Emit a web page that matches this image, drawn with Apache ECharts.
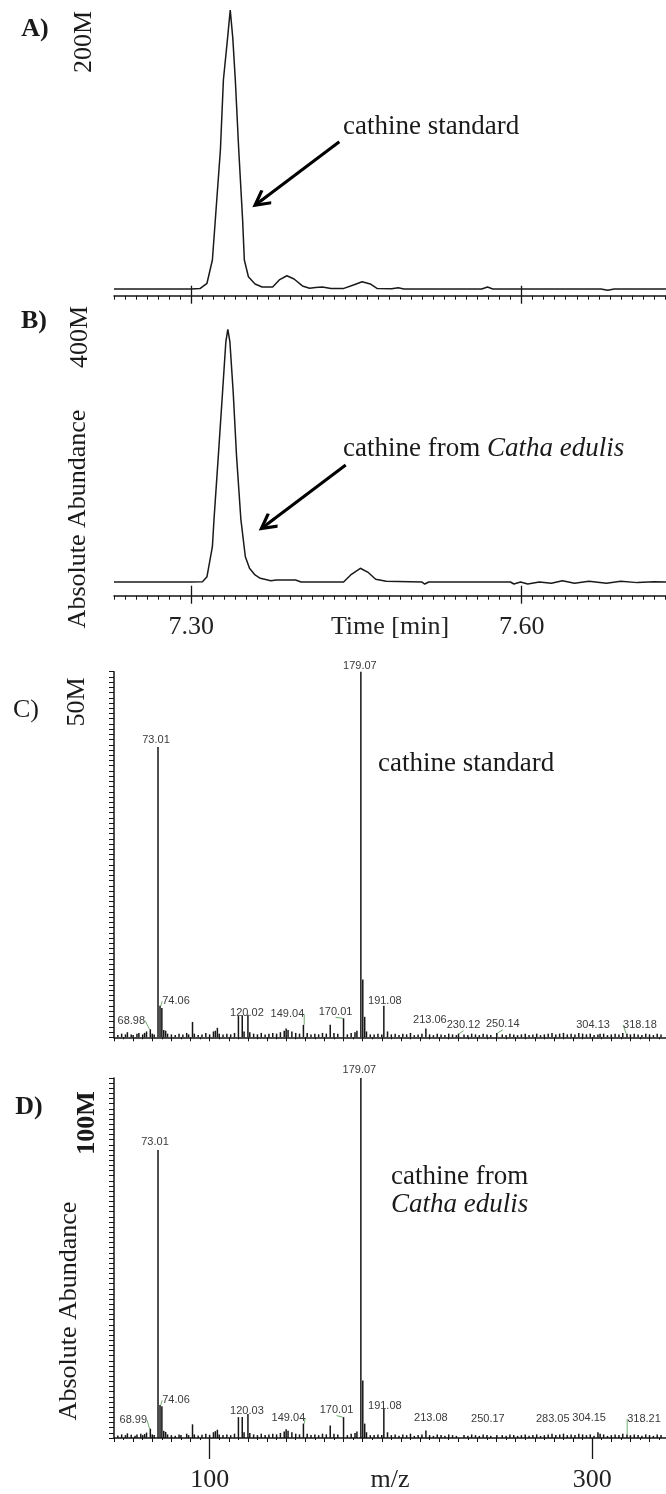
<!DOCTYPE html>
<html>
<head>
<meta charset="utf-8">
<script src="https://cdn.jsdelivr.net/npm/echarts@6/dist/echarts.min.js"></script>
<style>
  html, body { margin: 0; padding: 0; background: #fff; }
  #chart { width: 666px; height: 1494px; }
</style>
</head>
<body>
<div id="chart"></div>
<script>
// ---------- data ----------
// Total ion chromatograms: [retention time (min), abundance (M counts)]
const traceStandard = [
  [7.230,0],[7.300,0],[7.308,0.3],[7.3144,4.1],[7.3193,20.8],[7.322,50],[7.3266,100],[7.3293,150],
  [7.3331,180],[7.3355,200],[7.3378,180],[7.3401,150],[7.3432,100],[7.3467,50],[7.3483,20.8],
  [7.352,8.8],[7.358,3.6],[7.3644,1.4],[7.374,1.4],[7.380,6.5],[7.3869,9.5],[7.3934,7.2],[7.401,2.2],
  [7.4075,0.5],[7.413,1.0],[7.419,1.4],[7.427,0.3],[7.438,0.3],[7.448,3.1],[7.4552,5.2],[7.4626,3.6],
  [7.469,0.3],[7.482,0.2],[7.488,0.9],[7.493,0],[7.5638,0],[7.569,1.4],[7.5738,0],[7.672,0],
  [7.678,-0.9],[7.684,0],[7.731,0]
];
const traceKhat = [
  [7.230,0],[7.300,0],[7.3103,0.5],[7.3144,8.4],[7.3193,55.9],[7.3208,100],[7.3247,200],[7.3285,300],
  [7.3315,380],[7.3333,400],[7.3352,380],[7.3382,300],[7.3412,200],[7.3451,100],[7.3492,40],
  [7.353,21.7],[7.358,11.1],[7.3628,5.9],[7.3724,2.1],[7.3773,3.2],[7.3948,3.2],[7.3998,0],
  [7.4384,0],[7.4448,11.1],[7.4536,21.7],[7.461,14.7],[7.4675,4.3],[7.4771,1.1],[7.5093,0],
  [7.512,-3.2],[7.5157,0],[7.5898,0],[7.593,-3.2],[7.599,0],[7.6055,-3.2],[7.616,0],[7.627,-2.1],
  [7.637,2.1],[7.648,-2.1],[7.661,1.1],[7.677,-2.1],[7.690,1.1],[7.705,-1.0],[7.720,0.5],[7.731,0]
];
const timeTicks = [7.30, 7.60];
// Arrow annotations, [tail, head] in [time, abundance]
const arrowStandard = [[7.4345, 105.6], [7.3628, 62.9]];
const arrowKhat = [[7.4403, 185.2], [7.3686, 90.9]];

// Mass spectra: annotated peaks [m/z, abundance (M counts)]
const specStandardPeaks = [
  [68.98,1.1],[73.01,39.7],[74.06,4.3],[120.02,3.1],[149.04,1.7],[170.01,2.6],[179.07,50],
  [191.08,4.3],[213.06,1.2],[230.12,0.5],[250.14,0.6],[304.13,0.5],[318.18,0.5]
];
const specStandardMinor = [
  [52,0.3],[54,0.5],[56,0.4],[57,0.7],[59,0.4],[60,0.3],[62,0.5],[63,0.6],[65,0.4],[66,0.6],[67,0.8],
  [70,0.5],[71,0.4],[75.02,4.0],[76,1.0],[77,0.9],[78,0.5],[80,0.4],[82,0.3],[84,0.5],[86,0.4],
  [88,0.6],[89,0.4],[91.05,2.1],[92,0.5],[94,0.3],[96,0.4],[98,0.6],[100,0.4],[102,0.8],[103,0.9],
  [104.05,1.3],[105,0.5],[107,0.4],[109,0.5],[111,0.4],[113,0.6],[115.05,2.9],[117.05,3.0],[118,0.8],
  [121,0.7],[123,0.5],[125,0.4],[127,0.6],[129,0.4],[131,0.5],[133,0.6],[135,0.5],[137,0.7],[139,0.9],
  [140,1.2],[141,1.0],[143,0.8],[145,0.6],[147,0.5],[151,0.6],[153,0.4],[155,0.5],[157,0.4],[159,0.6],
  [161,0.5],[163.05,1.7],[165,0.6],[167,0.5],[172,0.4],[174,0.6],[176,0.7],[177,0.9],[180.07,7.9],
  [181.07,2.8],[182,0.8],[184,0.4],[186,0.4],[188,0.5],[190,0.4],[193,0.8],[195,0.4],[197,0.5],
  [199,0.3],[201,0.5],[203,0.4],[205,0.6],[207,0.3],[209,0.4],[211,0.5],[215,0.4],[217,0.3],[219,0.5],
  [221,0.4],[223,0.3],[225,0.5],[227,0.4],[229,0.3],[233,0.4],[235,0.3],[237,0.5],[239,0.4],[241,0.3],
  [243,0.5],[245,0.4],[247,0.3],[253,0.4],[255,0.3],[257,0.5],[259,0.4],[261,0.3],[263,0.4],[265,0.5],
  [267,0.3],[269,0.4],[271,0.5],[273,0.3],[275,0.4],[277,0.5],[279,0.6],[281,0.4],[283,0.5],[285,0.6],
  [287,0.4],[289,0.5],[291,0.4],[293,0.6],[295,0.5],[297,0.4],[299,0.5],[301,0.3],[303,0.4],[306,0.5],
  [308,0.3],[310,0.4],[312,0.5],[314,0.4],[316,0.6],[320,0.4],[322,0.5],[324,0.4],[326,0.3],[328,0.5],
  [330,0.4],[332,0.3],[334,0.5],[336,0.4]
];
const specKhatPeaks = [
  [68.99,2.6],[73.01,80],[74.06,9.2],[120.03,6.7],[149.04,4.0],[170.01,5.8],[179.07,100],
  [191.08,8.2],[213.08,2.1],[250.17,0.8],[283.05,1.0],[304.15,1.2],[318.21,1.0]
];
const specKhatMinor = [
  [52,0.7],[54,1.0],[56,0.8],[57,1.3],[59,0.9],[61,0.6],[62,1.0],[64,1.2],[65,0.8],[66,1.1],[67,1.5],
  [70,1.0],[71,0.8],[75.03,8.8],[76,2.0],[77,1.7],[78,1.0],[80,0.8],[82,0.6],[84,1.0],[85,0.8],
  [88,1.2],[89,0.8],[91.05,3.8],[92,1.0],[94,0.7],[96,0.9],[98,1.2],[100,0.9],[102,1.6],[103,1.9],
  [104.05,2.3],[105,1.0],[107,0.8],[109,1.0],[111,0.8],[113,1.2],[115.05,5.8],[117.05,5.8],[118,1.6],
  [121,1.4],[123,1.0],[125,0.8],[127,1.2],[129,0.8],[131,1.0],[133,1.2],[135,1.0],[137,1.4],[139,1.8],
  [140,2.4],[141,2.0],[143,1.6],[145,1.2],[147,1.0],[151,1.2],[153,0.8],[155,1.0],[157,0.8],[159,1.2],
  [161,1.0],[163.05,3.5],[165,1.2],[167,1.0],[172,0.8],[174,1.2],[176,1.4],[177,1.8],[180.07,16],
  [181.07,4.0],[182,1.6],[184,0.8],[186,0.8],[188,1.0],[190,0.8],[193,1.6],[195,0.8],[197,1.0],
  [199,0.6],[201,1.0],[203,0.8],[205,1.2],[207,0.6],[209,0.8],[211,1.0],[215,0.8],[217,0.6],[219,1.0],
  [221,0.8],[223,0.6],[225,1.0],[227,0.8],[229,0.6],[233,0.8],[235,0.6],[237,1.0],[239,0.8],[241,0.6],
  [243,1.0],[245,0.8],[247,0.6],[253,0.8],[255,0.6],[257,1.0],[259,0.8],[261,0.6],[263,0.8],[265,1.0],
  [267,0.6],[269,0.8],[271,1.0],[273,0.6],[275,0.8],[277,1.0],[279,1.2],[281,0.8],[285,1.2],[287,0.8],
  [289,1.0],[291,0.8],[293,1.2],[295,1.0],[297,0.8],[299,1.0],[301,0.6],[303,1.6],[306,1.0],[308,0.6],
  [310,0.8],[312,1.0],[314,0.8],[316,1.2],[320,0.8],[322,1.0],[324,0.8],[326,0.6],[328,1.0],[330,0.8],
  [332,0.6],[334,1.0],[336,0.8]
];
const mzTicks = [100, 300];

// ---------- layout & style ----------
// Peak-label nudges [dx, dy, leader line] relative to the default "top" spot
const standardLabelShift = [
  [-19,-1,1],[-2,0,0],[16,3,1],[-1,6,0],[-16,-3,1],[-8,1,1],[-1,2,0],
  [1,3,0],[4,-1.5,0],[5,-1,1],[6,-1,1],[-7,-1,0],[13,-1,1]
];
const khatLabelShift = [
  [-17,-1,1],[-3,-1,0],[16,3,1],[-1,5,0],[-15,2,1],[-7,0.5,1],[-1.5,-1,0],
  [1,5,0],[5,-5,0],[-9,-9,0],[-7,-8,0],[-11,-8,0],[17,-8,1]
];

const SERIF = "'Liberation Serif', 'Times New Roman', serif";
const NARROW = "'Liberation Sans Narrow', 'Liberation Sans', Arial, sans-serif";
const INK = '#151515';
const T_MIN = 7.23, T_MAX = 7.731;
const MZ_MIN = 50, MZ_MAX = 338.6;

const axisLineStyle = { color: INK, width: 1.5 };
const tickStyle = { color: INK, width: 1 };
const nameStyle = { fontFamily: SERIF, fontSize: 26, color: '#222' };

// Three overlaid time axes per chromatogram: fine ticks, major ticks up, major ticks down (+labels)
function timeAxes(grid, withLabels) {
  const base = {
    gridIndex: grid, type: 'value', position: 'bottom', min: T_MIN, max: T_MAX,
    splitLine: { show: false }, axisLabel: { show: false }
  };
  return [
    Object.assign({}, base, {
      interval: 0.01,
      axisLine: { show: true, onZero: false, lineStyle: axisLineStyle },
      axisTick: { show: true, length: 4, lineStyle: tickStyle }
    }),
    Object.assign({}, base, {
      axisLine: { show: false, onZero: false },
      axisTick: { show: true, inside: true, length: 10, customValues: timeTicks, lineStyle: { color: INK, width: 1.3 } }
    }),
    Object.assign({}, base, {
      axisLine: { show: false, onZero: false },
      axisTick: { show: true, length: 8, customValues: timeTicks, lineStyle: { color: INK, width: 1.3 } },
      axisLabel: withLabels ? {
        show: true, customValues: timeTicks, formatter: v => v.toFixed(2), margin: 18,
        fontFamily: SERIF, fontSize: 26, color: '#222'
      } : { show: false },
      name: withLabels ? 'Time [min]' : '',
      nameLocation: 'middle', nameGap: 18, nameMoveOverlap: false,
      nameTextStyle: nameStyle
    })
  ];
}

function mzAxes(grid, withLabels) {
  const base = {
    gridIndex: grid, type: 'value', position: 'bottom', min: MZ_MIN, max: MZ_MAX,
    splitLine: { show: false }, axisLabel: { show: false }
  };
  const axes = [Object.assign({}, base, {
    interval: 10,
    axisLine: { show: true, onZero: false, lineStyle: axisLineStyle },
    axisTick: { show: true, length: 4, lineStyle: tickStyle },
    minorTick: { show: true, splitNumber: 2, length: 2, lineStyle: tickStyle }
  })];
  if (withLabels) {
    axes.push(Object.assign({}, base, {
      axisLine: { show: false, onZero: false },
      axisTick: { show: true, length: 21, customValues: mzTicks, lineStyle: { color: INK, width: 1.3 } },
      axisLabel: {
        show: true, customValues: mzTicks, margin: 29,
        fontFamily: SERIF, fontSize: 26, color: '#222'
      },
      name: 'm/z', nameLocation: 'middle', nameGap: 29, nameMoveOverlap: false,
      nameTextStyle: nameStyle
    }));
  }
  return axes;
}

function abundanceAxis(grid, max, interval) {
  return {
    gridIndex: grid, type: 'value', position: 'left', min: 0, max: max, interval: interval,
    axisLine: { show: true, onZero: false, lineStyle: axisLineStyle },
    axisTick: { show: true, length: 5, lineStyle: tickStyle },
    minorTick: { show: true, splitNumber: 14, length: 5, lineStyle: tickStyle },
    axisLabel: { show: false }, splitLine: { show: false }
  };
}

// chevron arrow head with a short shaft up to the tip
const ARROW_HEAD = 'path://M5,0 L10,8.4 L8.6,9.4 L5,3.4 L1.4,9.4 L0,8.4 Z M4.3,1 L5.7,1 L5.7,10 L4.3,10 Z';

function arrowMark(arrow) {
  return {
    silent: true, animation: false,
    symbol: ['none', ARROW_HEAD], symbolSize: [18, 20],
    label: { show: false },
    lineStyle: { color: '#000', width: 3, type: 'solid' },
    emphasis: { disabled: true },
    data: [[{ coord: arrow[0] }, { coord: arrow[1] }]]
  };
}

function traceSeries(xIdx, yIdx, data, arrow) {
  return {
    type: 'line', xAxisIndex: xIdx, yAxisIndex: yIdx, data: data,
    showSymbol: false, symbol: 'none', silent: true, animation: false,
    lineStyle: { color: '#1a1a1a', width: 1.5 },
    markLine: arrowMark(arrow)
  };
}

function spectrumSeries(xIdx, yIdx, peaks, minor, shifts) {
  const data = peaks.map((p, i) => ({
    value: p,
    label: { show: true, formatter: p[0].toFixed(2) },
    labelLine: { show: !!shifts[i][2] }
  }));
  minor.forEach(p => data.push({ value: p }));
  return {
    type: 'bar', xAxisIndex: xIdx, yAxisIndex: yIdx, data: data,
    barWidth: 1.5, silent: true, animation: false,
    itemStyle: { color: INK },
    label: {
      show: false, position: 'top', distance: 2,
      fontFamily: NARROW, fontSize: 11, color: '#3a3a3a'
    },
    labelLine: { show: false, lineStyle: { color: '#6fae6f', width: 1 } },
    labelLayout: params => {
      const s = shifts[params.dataIndex];
      return s ? { dx: s[0], dy: s[1] } : {};
    }
  };
}

function txt(x, y, text, font, extra) {
  return Object.assign({
    type: 'text', x: x, y: y, silent: true,
    style: { text: text, font: font, fill: '#1a1a1a', align: 'center', verticalAlign: 'middle',
             textAlign: 'center', textVerticalAlign: 'middle' }
  }, extra || {});
}
function vtxt(x, y, text, font) {
  return txt(x, y, text, font, { rotation: Math.PI / 2 });
}
function ltxt(x, y, text, font) {
  const el = txt(x, y, text, font);
  el.style.align = 'left'; el.style.textAlign = 'left';
  return el;
}

const chart = echarts.init(document.getElementById('chart'), null, { renderer: 'canvas' });

const f26 = `26px ${SERIF}`;
const f27 = `27px ${SERIF}`;
const b26 = `bold 26px ${SERIF}`;

chart.setOption({
  animation: false,
  backgroundColor: '#ffffff',
  grid: [
    { left: 114, right: 0, top: 10, height: 285.7 },
    { left: 114, right: 0, top: 329.3, height: 266.4 },
    { left: 114, right: 0, top: 671.7, height: 365.6 },
    { left: 114, right: 0, top: 1078, height: 361.3 }
  ],
  xAxis: [].concat(timeAxes(0, false), timeAxes(1, true), mzAxes(2, false), mzAxes(3, true)),
  yAxis: [
    { gridIndex: 0, type: 'value', min: -4.8, max: 200, show: false },
    { gridIndex: 1, type: 'value', min: -21.7, max: 400, show: false },
    abundanceAxis(2, 50, 10),
    abundanceAxis(3, 100, 20)
  ],
  series: [
    traceSeries(0, 0, traceStandard, arrowStandard),
    traceSeries(3, 1, traceKhat, arrowKhat),
    spectrumSeries(6, 2, specStandardPeaks, specStandardMinor, standardLabelShift),
    spectrumSeries(7, 3, specKhatPeaks, specKhatMinor, khatLabelShift)
  ],
  graphic: [
    txt(35, 29, 'A)', b26),
    txt(34, 321, 'B)', b26),
    txt(26, 710, 'C)', f26),
    txt(29, 1107, 'D)', b26),
    vtxt(84, 42, '200M', f26),
    vtxt(80, 337, '400M', f26),
    vtxt(77, 702, '50M', f26),
    vtxt(87, 1123, '100M', b26),
    vtxt(78, 519, 'Absolute Abundance', f26),
    vtxt(69, 1311, 'Absolute Abundance', f26),
    ltxt(343, 127, 'cathine standard', f27),
    {
      type: 'text', x: 343, y: 449, silent: true,
      style: {
        text: '{n|cathine from }{i|Catha edulis}',
        align: 'left', verticalAlign: 'middle', textAlign: 'left', textVerticalAlign: 'middle',
        fill: '#1a1a1a',
        rich: {
          n: { fontFamily: SERIF, fontSize: 27, color: '#1a1a1a' },
          i: { fontFamily: SERIF, fontSize: 27, fontStyle: 'italic', color: '#333' }
        }
      }
    },
    ltxt(378, 764, 'cathine standard', f27),
    ltxt(391, 1177, 'cathine from', f27),
    ltxt(391, 1205, 'Catha edulis', `italic 27px ${SERIF}`)
  ]
});
</script>
</body>
</html>
